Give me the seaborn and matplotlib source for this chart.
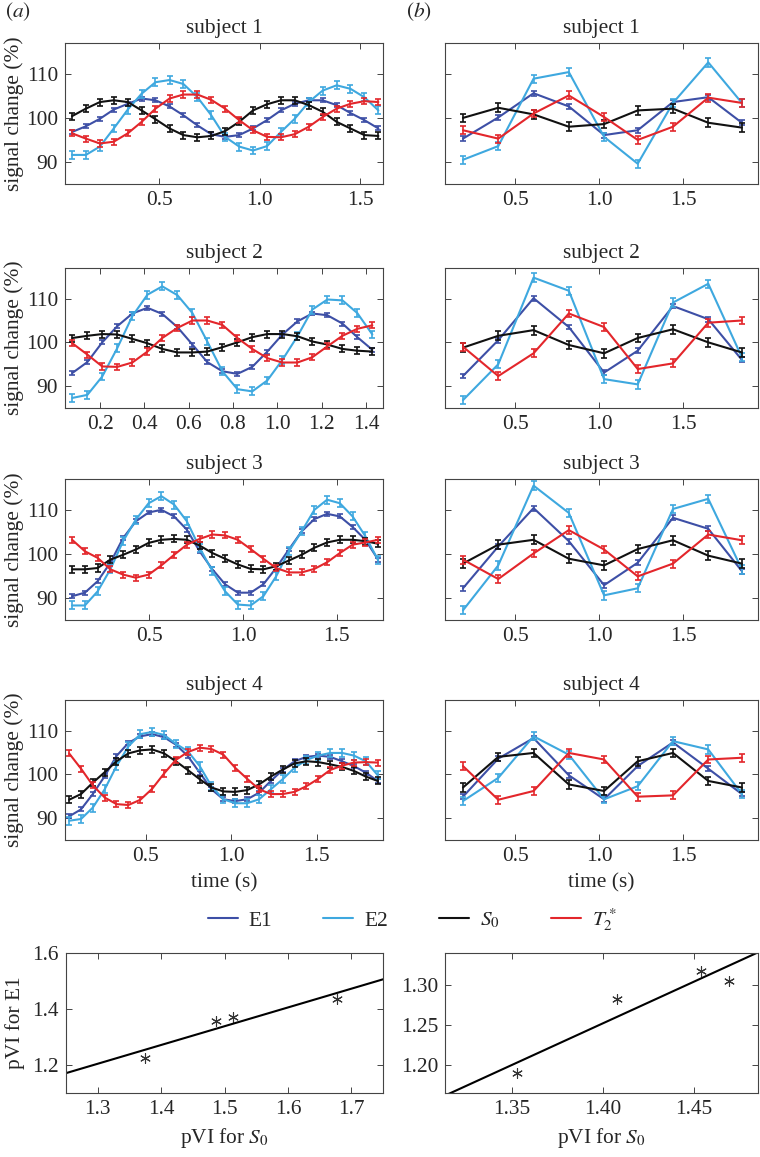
import matplotlib
matplotlib.use("Agg")
import matplotlib.pyplot as plt
from matplotlib.ticker import FormatStrFormatter
import seaborn as sns

sns.set_style("ticks")
plt.rcParams['font.family'] = ['Liberation Serif', 'DejaVu Serif']
plt.rcParams['mathtext.fontset'] = 'stix'
plt.rcParams['axes.unicode_minus'] = False

FS = 15.4
W, H = 760, 1157

COLORS = {'E1': '#3d4fa6', 'E2': '#3ea8df', 'S0': '#111111', 'T2': '#e3262b'}
LABELS = {'E1': 'E1', 'E2': 'E2', 'S0': '$S_0$', 'T2': '$T_2^*$'}
ORDER = ['E1', 'E2', 'S0', 'T2']

# ---- (a) time courses, fine sampling ----
t_s1 = [0.065, 0.134, 0.204, 0.273, 0.343, 0.412, 0.481, 0.551, 0.620, 0.690, 0.759, 0.828,
        0.898, 0.967, 1.037, 1.106, 1.175, 1.245, 1.314, 1.384, 1.453, 1.522, 1.592]
s1_S0 = [100.4, 102.1, 103.6, 104.0, 103.6, 101.7, 99.7, 97.6, 96.1, 95.6, 95.9, 97.0,
         99.1, 101.7, 103.1, 104.0, 104.0, 102.9, 101.4, 99.1, 97.6, 96.1, 95.9]
s1_E1 = [96.8, 98.1, 99.8, 101.9, 103.2, 104.4, 104.0, 102.6, 100.6, 98.3, 96.3, 95.7,
         96.1, 97.6, 99.5, 101.7, 103.2, 104.0, 104.0, 102.9, 101.1, 99.5, 97.6]
s1_E2 = [91.6, 91.6, 93.5, 97.6, 101.9, 105.5, 108.1, 108.6, 107.7, 104.7, 100.6, 95.7,
         93.5, 92.6, 93.6, 96.8, 99.8, 103.6, 106.2, 107.4, 106.6, 104.7, 101.7]
s1_T2 = [96.5, 95.3, 94.2, 94.6, 96.5, 99.1, 102.1, 104.4, 105.3, 105.3, 104.1, 102.1,
         99.5, 97.2, 95.7, 95.6, 96.3, 98.0, 100.2, 102.1, 103.2, 103.8, 103.6]

t_s2 = [0.075, 0.143, 0.210, 0.278, 0.346, 0.414, 0.481, 0.549, 0.617, 0.684, 0.752,
        0.820, 0.887, 0.955, 1.023, 1.091, 1.158, 1.226, 1.294, 1.361, 1.429]
s2_S0 = [101.0, 101.5, 101.9, 101.8, 100.8, 99.8, 98.5, 97.7, 97.7, 97.9, 98.9,
         100.0, 101.2, 101.9, 101.9, 101.4, 100.2, 99.5, 98.5, 98.1, 97.9]
s2_E1 = [93.0, 95.5, 100.0, 103.7, 106.6, 107.9, 106.5, 103.5, 99.5, 95.5, 93.4,
         92.8, 94.4, 97.9, 101.8, 104.8, 106.6, 106.2, 104.3, 101.2, 98.3]
s2_E2 = [87.3, 88.0, 92.2, 98.7, 106.0, 110.9, 112.8, 110.8, 106.7, 100.2, 93.4,
         89.3, 88.8, 91.3, 96.0, 101.4, 107.5, 109.8, 109.6, 106.7, 101.8]
s2_T2 = [99.8, 97.2, 94.5, 94.4, 95.4, 97.9, 101.0, 103.3, 105.0, 105.0, 104.0,
         101.0, 98.5, 96.4, 95.4, 95.4, 96.6, 99.1, 101.5, 103.1, 103.9]

t_s3 = [0.088, 0.156, 0.224, 0.292, 0.360, 0.428, 0.496, 0.564, 0.632, 0.700, 0.768, 0.836,
        0.904, 0.972, 1.040, 1.108, 1.176, 1.244, 1.312, 1.380, 1.448, 1.516, 1.584, 1.652, 1.720]
s3_S0 = [96.5, 96.5, 96.8, 98.7, 99.8, 101.0, 102.5, 103.2, 103.4, 103.2, 101.9, 100.2,
         98.9, 97.6, 96.6, 96.5, 97.2, 98.5, 99.8, 101.4, 102.6, 103.2, 103.2, 102.9, 102.3]
s3_E1 = [90.4, 91.2, 93.8, 98.0, 103.6, 107.4, 109.4, 110.0, 108.5, 105.5, 100.6, 96.5,
         93.1, 91.2, 91.2, 93.1, 96.8, 101.0, 105.1, 107.9, 109.1, 108.5, 106.1, 103.2, 98.7]
s3_E2 = [88.3, 88.3, 91.5, 96.5, 102.9, 107.8, 111.5, 113.1, 111.2, 107.4, 101.4, 96.1,
         91.5, 88.5, 88.3, 90.4, 94.9, 100.6, 105.1, 110.0, 112.3, 111.5, 108.5, 104.0, 98.6]
s3_T2 = [103.2, 100.6, 99.1, 96.5, 95.3, 94.6, 95.3, 97.4, 99.8, 102.1, 103.4, 104.4,
         104.2, 103.2, 101.1, 98.9, 96.8, 95.8, 95.8, 96.6, 98.1, 100.2, 102.1, 102.6, 103.2]

t_s4 = [0.049, 0.119, 0.188, 0.258, 0.327, 0.397, 0.467, 0.536, 0.606, 0.675, 0.745, 0.815,
        0.884, 0.954, 1.023, 1.093, 1.163, 1.232, 1.302, 1.371, 1.441, 1.511, 1.580, 1.650,
        1.719, 1.789, 1.859]
s4_S0 = [94.2, 95.5, 98.1, 100.5, 103.0, 104.8, 105.5, 105.7, 104.8, 103.0, 101.0, 98.9,
         97.0, 96.1, 96.0, 96.4, 97.7, 99.5, 101.1, 102.5, 103.0, 102.8, 102.3, 101.7,
         100.8, 99.5, 98.5]
s4_E1 = [90.4, 92.0, 95.5, 99.6, 104.2, 107.2, 108.7, 109.2, 108.5, 106.8, 104.2, 100.4,
         96.6, 94.3, 93.9, 94.3, 95.8, 98.5, 101.0, 103.0, 104.0, 104.3, 104.0, 103.0,
         101.9, 100.4, 98.5]
s4_E2 = [89.4, 89.8, 92.4, 96.6, 101.9, 106.4, 109.2, 109.7, 109.0, 107.0, 105.3, 101.9,
         97.3, 94.3, 93.4, 93.4, 94.3, 96.6, 98.9, 101.5, 103.3, 104.3, 104.9, 104.9,
         104.3, 103.0, 99.8]
s4_T2 = [104.8, 101.3, 97.5, 94.7, 93.2, 93.0, 94.2, 96.7, 100.2, 103.3, 105.1, 106.1,
         105.8, 104.5, 101.5, 99.0, 96.6, 95.5, 95.5, 96.0, 97.3, 99.0, 101.0, 102.0,
         102.7, 102.8, 102.7]

# ---- (b) time courses, coarse sampling ----
t_b = [0.19, 0.40, 0.61, 0.82, 1.03, 1.23, 1.44, 1.65, 1.85]
b1_S0 = [100.0, 102.3, 100.8, 98.0, 98.6, 101.7, 102.1, 98.9, 97.8]
b1_E1 = [95.3, 100.1, 105.6, 102.6, 96.1, 97.2, 103.6, 104.7, 98.9]
b1_E2 = [90.5, 93.6, 108.9, 110.4, 95.7, 89.6, 103.4, 112.6, 103.4]
b1_T2 = [97.2, 95.3, 101.0, 105.1, 100.2, 95.0, 98.0, 104.6, 103.4]

b2_S0 = [98.8, 101.5, 102.8, 99.4, 97.5, 101.0, 103.0, 100.0, 97.7]
b2_E1 = [92.3, 100.5, 110.1, 103.5, 93.1, 98.1, 108.3, 105.3, 96.0]
b2_E2 = [86.8, 95.0, 114.8, 111.8, 91.6, 90.4, 109.1, 113.4, 96.6]
b2_T2 = [99.0, 92.3, 97.5, 106.6, 103.5, 93.9, 95.2, 104.5, 105.0]

b3_S0 = [97.8, 102.1, 103.2, 98.9, 97.4, 101.1, 103.1, 99.6, 97.8]
b3_E1 = [92.2, 101.7, 110.4, 102.9, 92.9, 98.0, 108.2, 105.7, 96.1]
b3_E2 = [87.2, 97.4, 115.5, 109.3, 90.6, 92.2, 110.2, 112.5, 96.5]
b3_T2 = [98.7, 94.3, 100.1, 105.4, 101.0, 94.9, 97.8, 104.4, 103.1]

b4_S0 = [97.0, 104.0, 104.9, 97.7, 96.2, 103.0, 104.9, 98.5, 97.0]
b4_E1 = [94.9, 103.6, 108.3, 99.8, 94.3, 101.9, 107.3, 101.3, 95.5]
b4_E2 = [93.9, 99.2, 108.7, 104.5, 94.3, 97.3, 107.6, 105.7, 95.5]
b4_T2 = [101.9, 94.2, 96.2, 104.9, 103.4, 94.9, 95.2, 103.4, 103.8]

# half-length of error bars
err_a = {'E1': 0.45, 'E2': 0.9, 'S0': 0.8, 'T2': 0.7}
err_b = {'E1': 0.55, 'E2': 0.95, 'S0': 1.0, 'T2': 0.9}

# ---- pVI scatter ----
pvi_s0_a = [1.375, 1.486, 1.513, 1.677]
pvi_e1_a = [1.224, 1.358, 1.370, 1.436]
pvi_s0_b = [1.353, 1.408, 1.454, 1.469]
pvi_e1_b = [1.191, 1.282, 1.317, 1.305]

panels_a = [
    (t_s1, {'E1': s1_E1, 'E2': s1_E2, 'S0': s1_S0, 'T2': s1_T2}, (0.03, 1.615), [0.5, 1.0, 1.5]),
    (t_s2, {'E1': s2_E1, 'E2': s2_E2, 'S0': s2_S0, 'T2': s2_T2}, (0.042, 1.477),
     [0.2, 0.4, 0.6, 0.8, 1.0, 1.2, 1.4]),
    (t_s3, {'E1': s3_E1, 'E2': s3_E2, 'S0': s3_S0, 'T2': s3_T2}, (0.05, 1.746), [0.5, 1.0, 1.5]),
    (t_s4, {'E1': s4_E1, 'E2': s4_E2, 'S0': s4_S0, 'T2': s4_T2}, (0.025, 1.89), [0.5, 1.0, 1.5]),
]
panels_b = [
    {'E1': b1_E1, 'E2': b1_E2, 'S0': b1_S0, 'T2': b1_T2},
    {'E1': b2_E1, 'E2': b2_E2, 'S0': b2_S0, 'T2': b2_T2},
    {'E1': b3_E1, 'E2': b3_E2, 'S0': b3_S0, 'T2': b3_T2},
    {'E1': b4_E1, 'E2': b4_E2, 'S0': b4_S0, 'T2': b4_T2},
]

ROWS = [(43, 184), (268, 408), (479, 620), (700, 840)]
COL_A = (65, 383)
COL_B = (445, 758)


def px_axes(fig, x0, y0, x1, y1):
    return fig.add_axes([x0 / W, 1 - y1 / H, (x1 - x0) / W, (y1 - y0) / H])


def style_axes(ax):
    for sp in ax.spines.values():
        sp.set_color('#444444')
        sp.set_linewidth(0.8)
    ax.tick_params(direction='in', top=True, right=True, length=4, width=0.7,
                   color='#444444', labelsize=FS, pad=5)


def draw_series(ax, t, series, err):
    for key in ORDER:
        c = COLORS[key]
        sns.lineplot(x=t, y=series[key], ax=ax, color=c, linewidth=1.5,
                     label=LABELS[key], sort=False)
        ax.errorbar(t, series[key], yerr=err[key], fmt='none', ecolor=c,
                    elinewidth=1.2, capsize=2.0, capthick=1.2)
    handles = ax.get_legend_handles_labels()
    if ax.get_legend() is not None:
        ax.get_legend().remove()
    return handles


fig = plt.figure(figsize=(W / 100, H / 100), dpi=100)

legend_handles = None
for i, (row, pa, pb) in enumerate(zip(ROWS, panels_a, panels_b)):
    t, series, xlim, xticks = pa
    ax = px_axes(fig, COL_A[0], row[0], COL_A[1], row[1])
    legend_handles = draw_series(ax, t, series, err_a)
    ax.set_xlim(*xlim)
    ax.set_ylim(85, 117)
    ax.set_xticks(xticks)
    ax.set_yticks([90, 100, 110])
    ax.xaxis.set_major_formatter(FormatStrFormatter('%.1f'))
    ax.set_title(f'subject {i + 1}', fontsize=FS, pad=7)
    ax.set_ylabel('signal change (%)', fontsize=FS)
    ax.yaxis.set_label_coords(-0.128, 0.5)
    style_axes(ax)
    if i == 3:
        ax.set_xlabel('time (s)', fontsize=FS, labelpad=5)

    ax2 = px_axes(fig, COL_B[0], row[0], COL_B[1], row[1])
    draw_series(ax2, t_b, pb, err_b)
    ax2.set_xlim(0.083, 1.946)
    ax2.set_ylim(85, 117)
    ax2.set_xticks([0.5, 1.0, 1.5])
    ax2.set_yticks([90, 100, 110])
    ax2.set_yticklabels([])
    ax2.set_ylabel('')
    ax2.xaxis.set_major_formatter(FormatStrFormatter('%.1f'))
    ax2.set_title(f'subject {i + 1}', fontsize=FS, pad=7)
    style_axes(ax2)
    if i == 3:
        ax2.set_xlabel('time (s)', fontsize=FS, labelpad=5)

fig.legend(legend_handles[0], legend_handles[1], loc='center',
           bbox_to_anchor=(412 / W, 1 - 920 / H), ncol=4, frameon=False,
           handlelength=1.4, columnspacing=2.4, handletextpad=0.5, fontsize=FS)

# scatter panels
scat_kws = {'s': 50, 'color': '#333333', 'linewidths': 0.8, 'alpha': 1}
line_kws = {'color': 'black', 'linewidth': 1.5}

axs = px_axes(fig, 66, 953, 383, 1093)
axs.set_xlim(1.25, 1.75)
sns.regplot(x=pvi_s0_a, y=pvi_e1_a, ax=axs, ci=None, truncate=False, marker=(6, 2, 0),
            scatter_kws=scat_kws, line_kws=line_kws)
axs.set_xlim(1.25, 1.75)
axs.set_ylim(1.1, 1.6)
axs.set_xticks([1.3, 1.4, 1.5, 1.6, 1.7])
axs.set_yticks([1.2, 1.4, 1.6])
axs.xaxis.set_major_formatter(FormatStrFormatter('%.1f'))
axs.yaxis.set_major_formatter(FormatStrFormatter('%.1f'))
axs.set_xlabel('pVI for $S_0$', fontsize=FS, labelpad=5)
axs.set_ylabel('pVI for E1', fontsize=FS)
axs.yaxis.set_label_coords(-0.128, 0.5)
style_axes(axs)

axs2 = px_axes(fig, 445, 953, 758, 1093)
axs2.set_xlim(1.3135, 1.485)
sns.regplot(x=pvi_s0_b, y=pvi_e1_b, ax=axs2, ci=None, truncate=False, marker=(6, 2, 0),
            scatter_kws=scat_kws, line_kws=line_kws)
axs2.set_xlim(1.3135, 1.485)
axs2.set_ylim(1.166, 1.339)
axs2.set_xticks([1.35, 1.40, 1.45])
axs2.set_yticks([1.20, 1.25, 1.30])
axs2.xaxis.set_major_formatter(FormatStrFormatter('%.2f'))
axs2.yaxis.set_major_formatter(FormatStrFormatter('%.2f'))
axs2.set_xlabel('pVI for $S_0$', fontsize=FS, labelpad=5)
axs2.set_ylabel('')
style_axes(axs2)

fig.text(5 / W, 1 - 12 / H, '$(a)$', fontsize=FS, ha='left', va='center')
fig.text(406 / W, 1 - 12 / H, '$(b)$', fontsize=FS, ha='left', va='center')

fig.savefig('out.png', dpi=100)
